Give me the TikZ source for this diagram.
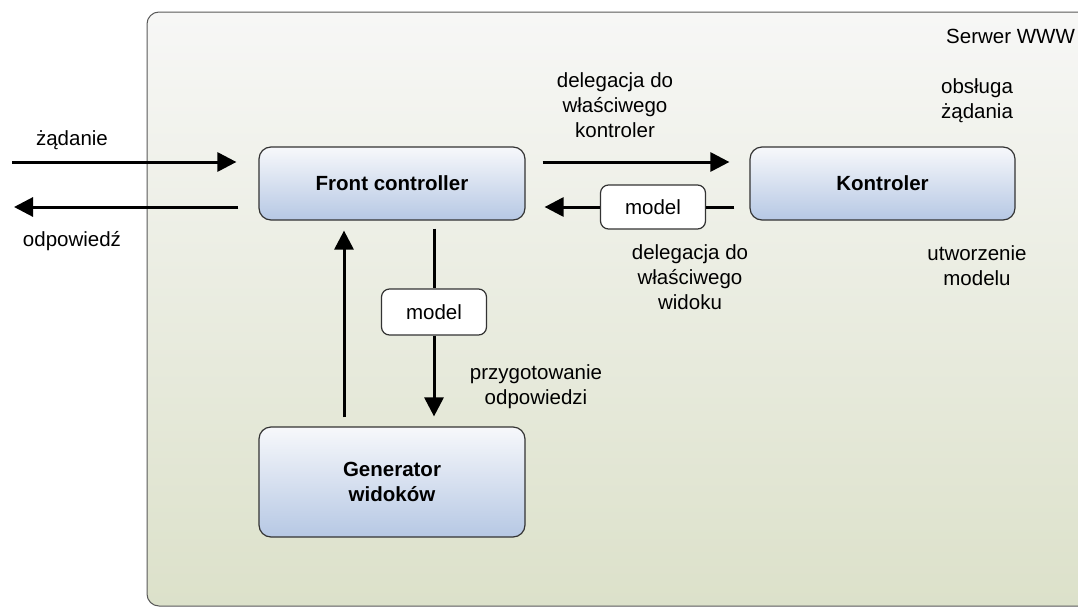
\documentclass[tikz,border=0pt]{standalone}
\usepackage{fontspec}
\setmainfont{Liberation Sans}
\usetikzlibrary{arrows.meta}
\definecolor{boxtop}{HTML}{F7F8FB}
\definecolor{boxbot}{HTML}{B6C8E4}
\definecolor{srvtop}{HTML}{F7F7F6}
\definecolor{srvbot}{HTML}{DCE1CA}
\definecolor{edge}{HTML}{333333}
\begin{document}
\begin{tikzpicture}[x=1pt,y=-1pt,
  txt/.style={font=\fontsize{20.5}{25}\selectfont, align=center, inner sep=0pt},
  comp/.style={draw=edge, line width=1.2pt, rounded corners=12pt, top color=boxtop, bottom color=boxbot,
     font=\fontsize{20.5}{25}\selectfont\bfseries, align=center, inner sep=0pt},
  modelbox/.style={draw=edge, line width=1.2pt, rounded corners=8pt, fill=white,
     font=\fontsize{20.5}{25}\selectfont, inner sep=0pt, minimum width=105pt},
  arr/.style={line width=3pt, -{Triangle[length=19pt,width=19pt]}},
  ln/.style={line width=3pt}]
\useasboundingbox (0,0) rectangle (1078,608);
% server container
\draw[rounded corners=12pt, draw=black!65, line width=1pt, top color=srvtop, bottom color=srvbot] (147,12) rectangle (1120,606);
\node[txt, anchor=west] (srv) at (946,36) {Serwer WWW};

% components
\node[comp, minimum width=266pt, minimum height=73pt] (fc) at (392,183.5) {Front controller};
\node[comp, minimum width=265pt, minimum height=73pt] (k) at (882.5,183.5) {Kontroler};
\node[comp, minimum width=266pt, minimum height=110pt] (g) at (392,482) {Generator\\widoków};

\node[modelbox, minimum height=44pt] (m1) at (653,207) {model};
\node[modelbox, minimum height=46pt] (m2) at (434,312) {model};

% helper coordinates
\coordinate (reqL) at (12,162);
\coordinate (respL) at (14,207);
\coordinate (ux) at (344,300);

% request / response
\draw[arr, shorten >=22pt] (reqL) -- (reqL -| fc.west);
\draw[arr, shorten <=20pt] (respL -| fc.west) -- (respL);

% front controller <-> kontroler
\draw[arr, shorten <=17pt, shorten >=20pt] (fc.east |- reqL) -- (k.west |- reqL);
\draw[ln, shorten <=15pt] (k.west |- respL) -- (m1.east);
\draw[arr, shorten >=19pt] (m1.west) -- (fc.east |- respL);

% front controller <-> generator
\draw[arr, shorten <=9pt, shorten >=10pt] (g.north -| ux) -- (fc.south -| ux);
\draw[ln, shorten <=8pt] (fc.south -| m2) -- (m2.north);
\draw[arr, shorten >=10pt] (m2.south) -- (g.north -| m2);

% labels
\node[txt] (l1) at (72,140) {żądanie};
\node[txt] (l2) at (72,241) {odpowiedź};
\node[txt] (l3) at (615,105) {delegacja do\\właściwego\\kontroler};
\node[txt] (l4) at (977,101) {obsługa\\żądania};
\node[txt] (l5) at (690,277) {delegacja do\\właściwego\\widoku};
\node[txt] (l6) at (977,266) {utworzenie\\modelu};
\node[txt] (l7) at (536,387) {przygotowanie\\odpowiedzi};
\end{tikzpicture}
\end{document}
